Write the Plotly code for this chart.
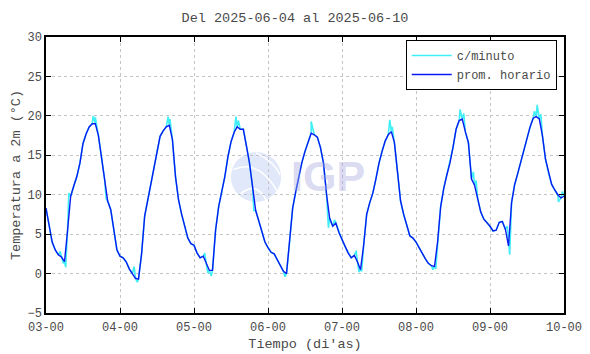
import plotly.graph_objects as go

# ---- data ----
day_ticks = [3, 4, 5, 6, 7, 8, 9, 10]
day_labels = ["03-00", "04-00", "05-00", "06-00", "07-00", "08-00", "09-00", "10-00"]

# hourly means (°C), one list per day, hour 0..23
hourly_d03 = [8.3, 6.0, 4.0, 3.0, 2.4, 2.1, 1.5, 5.5, 9.8, 11.1, 12.3, 14.0,
              16.5, 17.7, 18.6, 19.0, 19.0, 17.5, 14.9, 12.0, 9.2, 8.1, 5.5, 3.0]
hourly_d04 = [2.2, 2.0, 1.5, 0.6, 0.0, -0.6, -0.7, 2.5, 7.3, 9.3, 11.2, 13.2,
              15.5, 17.4, 18.1, 18.6, 18.8, 17.0, 12.3, 9.3, 7.5, 6.0, 4.5, 3.8]
hourly_d05 = [3.6, 2.6, 2.0, 2.2, 1.2, 0.4, 0.4, 5.5, 8.5, 10.3, 12.3, 14.8,
              16.7, 17.9, 18.6, 18.3, 18.3, 16.2, 14.0, 11.0, 8.0, 6.7, 5.2, 4.0]
hourly_d06 = [3.3, 2.7, 2.5, 1.8, 1.0, 0.3, 0.0, 4.0, 8.3, 10.4, 12.3, 14.1,
              15.5, 16.8, 17.8, 17.6, 17.3, 16.0, 14.0, 10.0, 7.0, 6.0, 6.4, 5.2]
hourly_d07 = [4.3, 3.4, 2.6, 2.0, 2.3, 1.5, 0.5, 3.5, 7.5, 9.0, 10.2, 12.0,
              14.0, 15.5, 16.8, 17.6, 18.0, 16.6, 12.4, 9.2, 7.5, 6.0, 4.8, 4.5]
hourly_d08 = [4.0, 3.3, 2.5, 1.9, 1.3, 1.0, 0.9, 4.0, 8.5, 10.8, 12.5, 14.0,
              16.0, 18.3, 19.4, 19.6, 18.0, 16.6, 12.0, 11.2, 9.5, 7.8, 6.9, 6.5]
hourly_d09 = [6.0, 5.4, 5.5, 6.5, 6.6, 5.6, 3.5, 9.0, 11.3, 12.7, 14.2, 15.5,
              17.0, 18.6, 19.7, 19.9, 19.6, 17.5, 14.5, 12.7, 11.3, 10.6, 10.0, 9.6]
hourly_d10 = [9.8]

# per-minute record: extra excursions visible around the hourly curve
# (hours counted from 03-00, value °C)
minute_hours = [4.6, 5.6, 6.4, 7.4, 15.3, 16.0, 19.5,
                28.6, 29.6, 39.6, 40.2,
                51.5, 52.5, 53.6, 61.6, 62.4, 67.4,
                77.5, 86.0, 86.6, 91.6, 93.6,
                100.6, 101.5, 102.4, 111.5, 112.3,
                125.5, 126.4, 134.3, 135.5, 138.6, 139.5,
                149.6, 150.4, 158.4, 159.3, 160.5, 166.2, 167.5]
minute_vals = [2.8, 1.3, 0.8, 10.2, 20.0, 19.8, 9.5,
               0.9, -1.1, 19.9, 19.6,
               2.6, 0.1, -0.3, 19.9, 19.4, 8.0,
               -0.4, 19.3, 18.4, 5.8, 6.8,
               2.9, 0.2, 0.3, 19.5, 18.6,
               0.5, 0.6, 20.8, 20.3, 12.9, 11.8,
               6.0, 2.4, 20.6, 21.4, 20.2, 9.1, 10.4]

# ---- build series ----
hourly = (hourly_d03 + hourly_d04 + hourly_d05 + hourly_d06 +
          hourly_d07 + hourly_d08 + hourly_d09 + hourly_d10)
hourly_x = [3 + i / 24 for i in range(len(hourly))]

pts = [(3 + i / 24, v) for i, v in enumerate(hourly)]
pts += [(3 + h / 24, v) for h, v in zip(minute_hours, minute_vals)]
pts.sort()
minute_x = [p[0] for p in pts]
minute_y = [p[1] for p in pts]

FONT = "Liberation Mono, Courier New, monospace"
TXT = "#4a4a4a"

fig = go.Figure()
fig.add_trace(go.Scatter(x=minute_x, y=minute_y, mode="lines", name="c/minuto",
                         line=dict(color="#40eef5", width=1.6)))
fig.add_trace(go.Scatter(x=hourly_x, y=hourly, mode="lines", name="prom. horario",
                         line=dict(color="#0a1af0", width=1.4)))

axis_common = dict(showline=True, linecolor="black", linewidth=1.5, mirror="allticks",
                   ticks="inside", ticklen=5, tickcolor="black", tickwidth=1,
                   showgrid=True, gridcolor="#c4c4c4", griddash="dot", gridwidth=1,
                   zeroline=False, tickfont=dict(family=FONT, size=12, color=TXT),
                   automargin=False)

fig.update_xaxes(range=[3, 10], tickvals=day_ticks, ticktext=day_labels,
                 ticklabelstandoff=2,
                 title=dict(text="Tiempo (di'as)", font=dict(family=FONT, size=13.5, color=TXT),
                            standoff=4),
                 **axis_common)
fig.update_yaxes(range=[-5, 30], dtick=5, tick0=-5,
                 title=dict(text="Temperatura a 2m (°C)", font=dict(family=FONT, size=13.5, color=TXT),
                            standoff=4),
                 **axis_common)

# IGP watermark (decoration, paper coordinates)
fig.add_shape(type="circle", xref="paper", yref="paper", x0=0.357, x1=0.454, y0=0.403, y1=0.583,
              fillcolor="#e1e8f9", line=dict(width=0), layer="below")
fig.add_shape(type="path", xref="paper", yref="paper", layer="below",
              path="M 0.362,0.52 Q 0.41,0.56 0.447,0.44",
              line=dict(color="white", width=1.5))
fig.add_shape(type="path", xref="paper", yref="paper", layer="below",
              path="M 0.375,0.43 Q 0.405,0.48 0.425,0.41",
              line=dict(color="white", width=1.5))
fig.add_shape(type="path", xref="paper", yref="paper", layer="below",
              path="M 0.405,0.58 Q 0.44,0.55 0.452,0.50",
              line=dict(color="white", width=1.5))
fig.add_annotation(text="<b>IGP</b>", xref="paper", yref="paper", x=0.545, y=0.496,
                   showarrow=False, font=dict(family="Liberation Sans, Arial", size=43, color="#a7a7e1"),
                   opacity=0.4)

fig.update_layout(
    width=590, height=354,
    margin=dict(l=46, r=26, t=37, b=41),
    paper_bgcolor="white", plot_bgcolor="white",
    title=dict(text="Del 2025-06-04 al 2025-06-10", x=0.5, xanchor="center",
               y=1 - 17 / 354, yref="container", yanchor="middle",
               font=dict(family=FONT, size=13.5, color=TXT)),
    legend=dict(x=0.986, y=0.989, xanchor="right", yanchor="top",
                bordercolor="black", borderwidth=1, bgcolor="white",
                font=dict(family=FONT, size=12, color=TXT),
                tracegroupgap=0, itemwidth=40),
    showlegend=True,
)

fig.write_html("out.html")
